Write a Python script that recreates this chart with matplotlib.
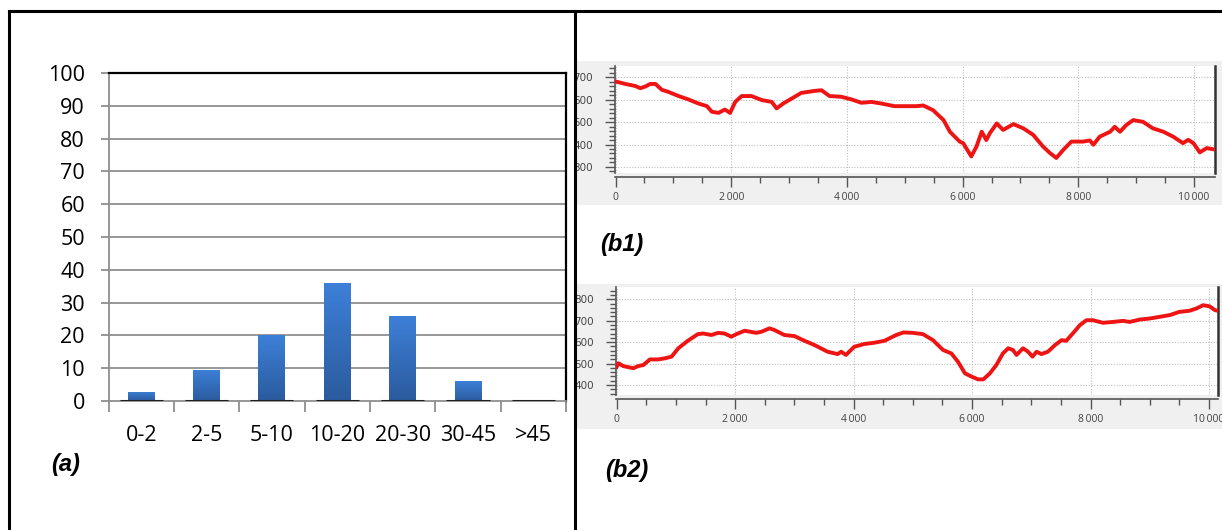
import numpy as np
import matplotlib.pyplot as plt
from matplotlib.lines import Line2D
from matplotlib.patches import Rectangle
from matplotlib.colors import LinearSegmentedColormap
from matplotlib.transforms import Bbox, TransformedBbox
from matplotlib.ticker import MultipleLocator, FuncFormatter

plt.rcParams['font.family'] = ['Open Sans', 'DejaVu Sans']

# (a) distribution of classes, in percent
classes = ['0-2', '2-5', '5-10', '10-20', '20-30', '30-45', '>45']
percent = [2.8, 9.5, 20, 36, 26, 6, 0]

# (b1) profile: distance vs elevation
b1_dist = [0, 170, 340, 430, 520, 600, 690, 800, 920, 1090,
           1260, 1430, 1580, 1665, 1780, 1890, 1980, 2070, 2180, 2350,
           2530, 2700, 2785, 2900, 3040, 3210, 3440, 3560, 3700, 3900,
           4080, 4250, 4420, 4590, 4820, 4920, 5200, 5320, 5490, 5670,
           5780, 5950, 6010, 6150, 6240, 6330, 6410, 6470, 6590, 6700,
           6880, 7050, 7220, 7390, 7510, 7620, 7740, 7880, 8080, 8200,
           8260, 8370, 8550, 8630, 8720, 8830, 8950, 9120, 9290, 9470,
           9640, 9810, 9900, 9990, 10100, 10220, 10330]
b1_elev = [681, 670, 661, 651, 659, 670, 670, 644, 634, 616,
           601, 583, 571, 546, 541, 556, 541, 590, 616, 616,
           598, 590, 561, 583, 604, 630, 639, 642, 616, 613,
           601, 586, 590, 583, 571, 571, 571, 574, 553, 509,
           457, 413, 406, 347, 391, 457, 420, 450, 494, 465,
           491, 472, 443, 391, 362, 340, 376, 413, 413, 418,
           399, 435, 457, 479, 457, 487, 509, 501, 472, 457,
           435, 406, 421, 406, 365, 384, 379]

# (b2) profile
b2_dist = [0, 30, 110, 280, 365, 450, 560, 700, 810, 925,
           1040, 1200, 1370, 1460, 1600, 1710, 1820, 1935, 2020, 2160,
           2355, 2440, 2580, 2665, 2830, 3000, 3170, 3340, 3560, 3730,
           3790, 3870, 4010, 4180, 4350, 4520, 4720, 4840, 5000, 5170,
           5340, 5510, 5650, 5760, 5880, 5990, 6100, 6190, 6300, 6410,
           6520, 6610, 6690, 6750, 6860, 6945, 7020, 7090, 7170, 7280,
           7400, 7510, 7590, 7700, 7820, 7930, 8040, 8210, 8380, 8550,
           8660, 8830, 9000, 9170, 9340, 9500, 9670, 9790, 9900, 10010,
           10100, 10150]
b2_elev = [485, 501, 488, 478, 488, 493, 519, 519, 524, 532,
           571, 606, 637, 640, 633, 643, 640, 625, 637, 653,
           643, 648, 664, 656, 633, 628, 606, 586, 555, 544,
           555, 540, 578, 591, 597, 606, 633, 645, 643, 637,
           609, 563, 547, 509, 454, 439, 426, 426, 454, 493,
           547, 571, 563, 540, 571, 555, 532, 555, 544, 555,
           586, 609, 606, 640, 679, 702, 702, 690, 694, 699,
           694, 705, 710, 718, 726, 741, 746, 757, 772, 767,
           749, 746]

W, H = 1222, 530
fig = plt.figure(figsize=(W / 100, H / 100), dpi=100)


def px_box(x0, y0, x1, y1):
    # pixel box (top-left origin) -> figure fraction rect
    return [x0 / W, 1 - y1 / H, (x1 - x0) / W, (y1 - y0) / H]


# 1. frame lines
for xs, ys in [([9, 9], [11, H]), ([9, W], [11, 11]), ([575, 575], [11, H])]:
    fig.add_artist(Line2D([x / W for x in xs], [1 - y / H for y in ys],
                          transform=fig.transFigure, color='black', lw=2.2))

# 2. bar chart (a)
ax = fig.add_axes(px_box(108.5, 73, 566, 401))
idx = np.arange(len(classes))
bars = ax.bar(idx, percent, width=0.41, color='#3774c4', zorder=3)
grad = np.linspace(0, 1, 100).reshape(-1, 1)
cmap = LinearSegmentedColormap.from_list('blu', ['#2b5b9e', '#3d80d8'])
for b in bars:
    if b.get_height() > 0:
        im = ax.imshow(grad, extent=[b.get_x(), b.get_x() + b.get_width(), 0, b.get_height()],
                       origin='lower', cmap=cmap, aspect='auto', zorder=3.1)
        im.set_clip_path(b)
ax.hlines(np.zeros(len(idx)), idx - 0.33, idx + 0.33, color='#1e1e1e', lw=2.2, zorder=4)
ax.set_xlim(-0.5, len(classes) - 0.5)
ax.set_ylim(0, 100)
ax.yaxis.set_major_locator(MultipleLocator(10))
for v in range(10, 100, 10):
    ax.axhline(v, color='#8f8f8f', lw=1.3, zorder=1)
ax.set_xticks(np.arange(-0.5, len(classes), 1))
ax.set_xticklabels([])
ax.set_xticks(idx, minor=True)
ax.set_xticklabels(classes, minor=True)
ax.tick_params(axis='x', which='major', length=8, color='#8f8f8f', width=1.3)
ax.tick_params(axis='x', which='minor', length=0, pad=17, labelsize=15.5)
ax.tick_params(axis='y', length=6, color='#8f8f8f', width=1.3, labelsize=15.5, pad=11)
for s in ['left', 'bottom']:
    ax.spines[s].set_color('#8f8f8f')
    ax.spines[s].set_linewidth(1.3)
for s in ['top', 'right']:
    ax.spines[s].set_color('black')
    ax.spines[s].set_linewidth(1.6)
lab_font = dict(family=['Liberation Sans', 'DejaVu Sans'], fontsize=17,
                fontweight='bold', style='italic')
fig.text(66 / W, 1 - 464 / H, '(a)', ha='center', va='center', **lab_font)

# 3. profile panels (b1), (b2)
fmt = FuncFormatter(lambda v, p: f'{int(v):,}'.replace(',', '\u2009'))
panels = [
    (b1_dist, b1_elev, (615, 66, 1215, 173), (-9, 10363), (273, 750), (300, 700), (61, 205), '(b1)', 600, 245),
    (b2_dist, b2_elev, (616, 287, 1218, 395), (-12, 10152), (353, 857), (400, 800), (284, 429), '(b2)', 605, 470),
]
clip = TransformedBbox(Bbox.from_extents(577 / W, 0, 1, 1), fig.transFigure)
for dist, elev, box, xl, yl, yt, bg, lab, lx, ly in panels:
    fig.add_artist(Rectangle((577 / W, 1 - bg[1] / H), (W - 577) / W, (bg[1] - bg[0]) / H,
                             transform=fig.transFigure, fc='#f0f0f0', ec='none', zorder=-1))
    bx = fig.add_axes(px_box(*box))
    bx.set_facecolor('white')
    bx.plot(dist, elev, color='#ee1414', lw=2.8, solid_joinstyle='round', zorder=3)
    bx.set_xlim(*xl)
    bx.set_ylim(*yl)
    bx.xaxis.set_major_locator(MultipleLocator(2000))
    bx.xaxis.set_minor_locator(MultipleLocator(500))
    bx.xaxis.set_major_formatter(fmt)
    bx.set_yticks(np.arange(yt[0], yt[1] + 1, 100))
    bx.yaxis.set_minor_locator(MultipleLocator(20))
    bx.grid(True, which='major', color='#bdbdbd', lw=0.8, ls=(0, (1, 1.5)))
    bx.tick_params(axis='both', which='major', length=7, width=1, color='#555555',
                   labelsize=7.5, labelcolor='#444444', pad=4)
    bx.tick_params(axis='y', which='major', pad=9)
    bx.tick_params(axis='both', which='minor', length=4, width=1, color='#555555')
    for t in bx.get_xticklabels() + bx.get_yticklabels():
        t.set_fontfamily('DejaVu Sans')
    bx.spines['top'].set_visible(False)
    bx.spines['bottom'].set_position(('outward', 3))
    for s in ['left', 'bottom']:
        bx.spines[s].set_color('#555555')
        bx.spines[s].set_linewidth(1.2)
    bx.spines['right'].set_color('#333333')
    bx.spines['right'].set_linewidth(1.8)
    # the y labels are cut by the panel edge
    for t in bx.yaxis.get_major_ticks():
        t.label1.set_clip_box(clip)
        t.label1.set_clip_on(True)
    fig.text(lx / W, 1 - ly / H, lab, ha='left', va='center', **lab_font)

fig.savefig('out.png', dpi=100, facecolor='white')
